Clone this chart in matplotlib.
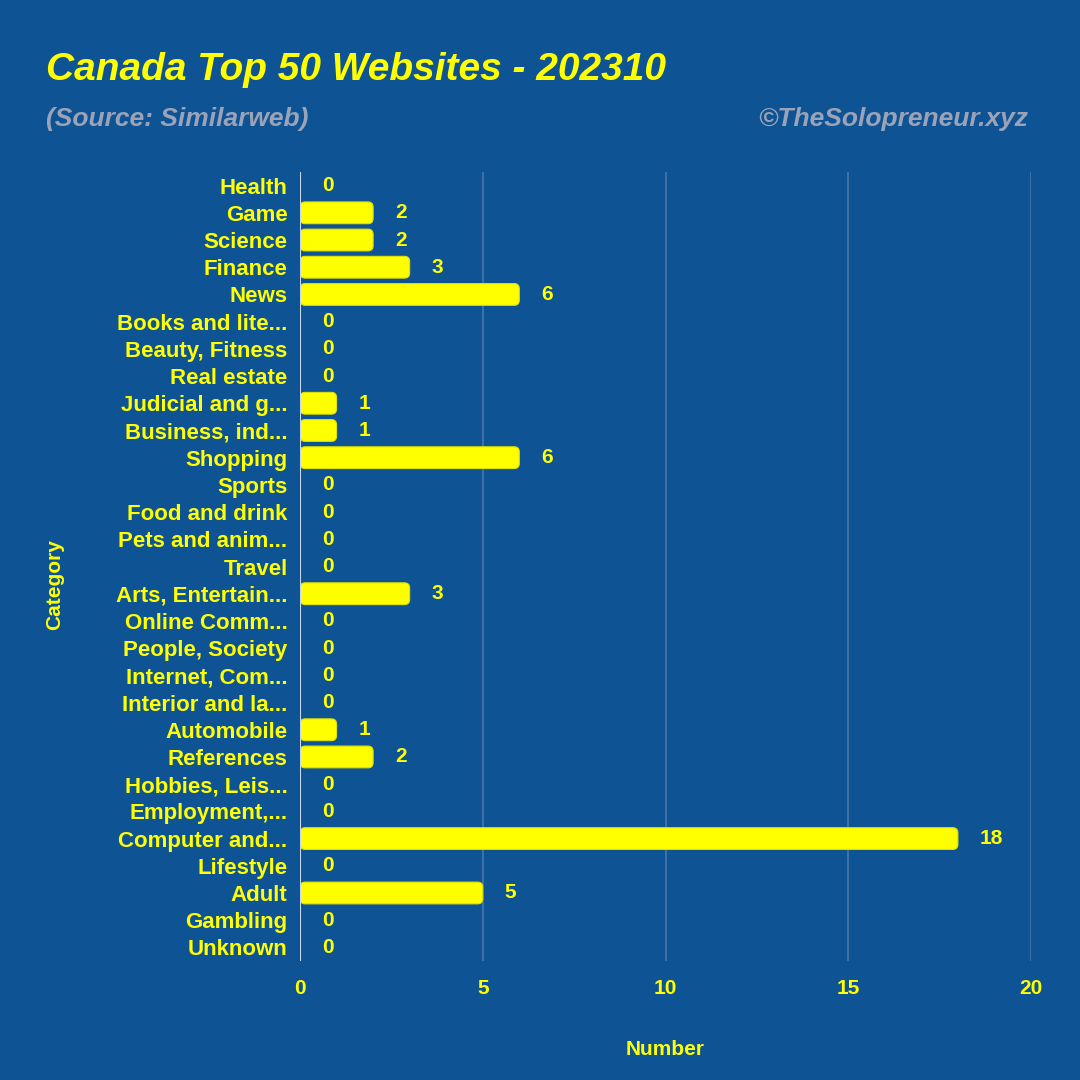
import matplotlib
matplotlib.use("Agg")
import matplotlib.pyplot as plt
from matplotlib.patches import FancyBboxPatch

categories = ["Health", "Game", "Science", "Finance", "News", "Books and lite...",
              "Beauty, Fitness", "Real estate", "Judicial and g...", "Business, ind...",
              "Shopping", "Sports", "Food and drink", "Pets and anim...", "Travel",
              "Arts, Entertain...", "Online Comm...", "People, Society", "Internet, Com...",
              "Interior and la...", "Automobile", "References", "Hobbies, Leis...",
              "Employment,...", "Computer and...", "Lifestyle", "Adult", "Gambling", "Unknown"]
values = [0, 2, 2, 3, 6, 0, 0, 0, 1, 1, 6, 0, 0, 0, 0, 3, 0, 0, 0, 0, 1, 2, 0, 0, 18, 0, 5, 0, 0]
xticks = [0, 5, 10, 15, 20]

BG = "#0E5394"
YEL = "#FFFF00"
FONT = ["Liberation Sans", "DejaVu Sans"]

fig = plt.figure(figsize=(10.8, 10.8), dpi=100, facecolor=BG)
ax = fig.add_axes([300/1080, 1-961/1080, 731/1080, (961-172)/1080])
ax.set_facecolor(BG)

ypos = list(range(len(categories)))
bars = ax.barh(ypos, values, height=0.8, color=YEL, zorder=3)
ax.set_xlim(0, 20)
ax.set_ylim(len(categories) - 0.5, -0.5)

# rounded bar ends, built from the bar geometry
for b in bars:
    b.set_visible(False)
    w = b.get_width()
    if w <= 0:
        continue
    p = FancyBboxPatch((b.get_x(), b.get_y()), w, b.get_height(),
                       boxstyle="round,pad=0,rounding_size=0.14", mutation_aspect=1.35,
                       facecolor=YEL, edgecolor="#E0E000", linewidth=0.8, zorder=3)
    ax.add_patch(p)

for b, v in zip(bars, values):
    y = b.get_y() + b.get_height() / 2
    ax.annotate(str(v), xy=(v, y), xytext=(22, 0), textcoords="offset pixels",
                ha="left", va="center", color=YEL, fontsize=15, fontweight="bold",
                family=FONT, zorder=4)

ax.set_xticks(xticks)
ax.set_xticklabels([str(t) for t in xticks], family=FONT, fontweight="bold", fontsize=15, color=YEL)
ax.set_yticks(ypos)
ax.set_yticklabels(categories, family=FONT, fontweight="bold", fontsize=16, color=YEL)
ax.tick_params(axis="both", length=0)
ax.tick_params(axis="x", pad=13)
ax.tick_params(axis="y", pad=9)

for s in ax.spines.values():
    s.set_visible(False)
ax.grid(axis="x", color="#5580B0", linewidth=1.2, alpha=0.8, zorder=0)
ax.axvline(0, color="#C8D8F0", linewidth=1.5, zorder=5)

ax.set_xlabel("Number", family=FONT, fontweight="bold", fontsize=15, color=YEL, labelpad=30)
fig.text(55/1080, 1-585/1080, "Category", rotation=90, ha="center", va="center",
         family=FONT, fontweight="bold", fontsize=15, color=YEL)

fig.text(46/1080, 1-70/1080, "Canada Top 50 Websites - 202310", ha="left", va="center",
         family=FONT, fontweight="bold", style="italic", fontsize=28, color=YEL)
fig.text(46/1080, 1-119/1080, "(Source: Similarweb)", ha="left", va="center",
         family=FONT, fontweight="bold", style="italic", fontsize=19, color="#9AA3B8")
fig.text(1028/1080, 1-119/1080, "\u00a9TheSolopreneur.xyz", ha="right", va="center",
         family=FONT, fontweight="bold", style="italic", fontsize=19, color="#9AA3B8")

fig.savefig("out.png", dpi=100, facecolor=BG)
